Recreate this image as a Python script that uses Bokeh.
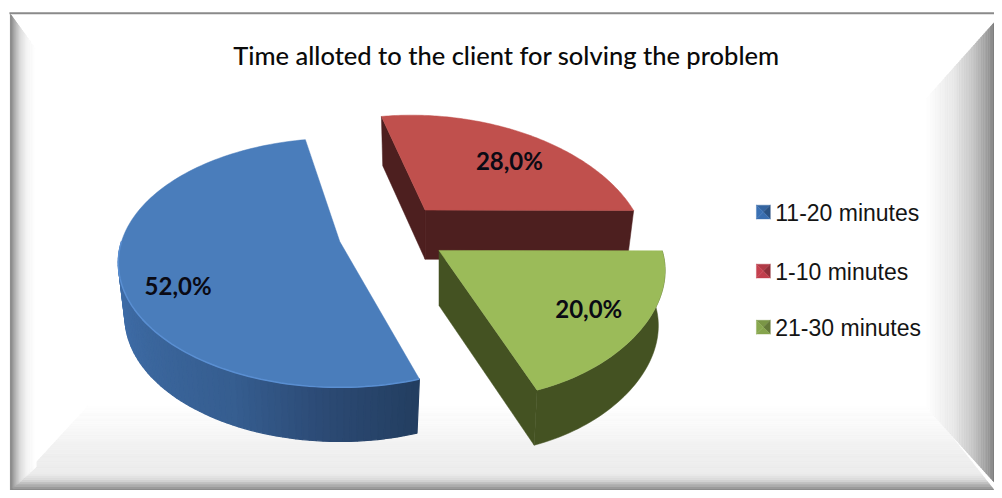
import numpy as np
from bokeh.plotting import figure
from bokeh.models import Range1d
from bokeh.core.properties import value
from bokeh.embed import file_html
from bokeh.resources import INLINE

title = "Time alloted to the client for solving the problem"
categories = ["11-20 minutes", "1-10 minutes", "21-30 minutes"]
shares = [52.0, 28.0, 20.0]
labels = ["52,0%", "28,0%", "20,0%"]
top_colors = ["#4a7dbb", "#c0504d", "#9bbb59"]
side_dark = ["#4d1f1f", "#445222"]
legend_colors = [(52, 100, 160), (176, 58, 70), (122, 150, 70)]

W, H = 994, 490
p = figure(width=W, height=H, x_range=Range1d(0, 1002), y_range=Range1d(498, 0),
           toolbar_location=None, output_backend="svg", min_border=0,
           background_fill_color="white", border_fill_color="white", outline_line_color=None)
p.axis.visible = False
p.grid.visible = False


def hexes(stops, t):
    ts = [s[0] for s in stops]
    vs = [s[1] for s in stops]
    g = int(round(float(np.interp(t, ts, vs))))
    return "#%02x%02x%02x" % (g, g, g)


def band(outer_a, outer_b, inner_a, inner_b, stops, n=40):
    xs, ys, cs = [], [], []
    oa, ob, ia, ib = map(np.array, (outer_a, outer_b, inner_a, inner_b))
    for i in range(n):
        t0, t1 = i / n, (i + 1) / n
        a0, b0 = oa + (ia - oa) * t0, ob + (ib - ob) * t0
        a1, b1 = oa + (ia - oa) * t1, ob + (ib - ob) * t1
        xs.append([a0[0], b0[0], b1[0], a1[0]])
        ys.append([a0[1], b0[1], b1[1], a1[1]])
        cs.append(hexes(stops, (t0 + t1) / 2))
    p.patches(xs, ys, fill_color=cs, line_color=cs, line_width=0.6)


# bevelled picture frame
band((10, 498), (1002, 498), (90, 410), (933, 410),
     [(0, 130), (0.05, 165), (0.12, 215), (0.2, 236), (0.45, 240), (0.8, 250), (1, 255)])
band((10, 14), (10, 498), (36, 50), (36, 474),
     [(0, 125), (0.15, 165), (0.4, 222), (0.7, 248), (1, 255)])
band((1002, 22), (1002, 490), (933, 100), (933, 413),
     [(0, 120), (0.08, 150), (0.3, 195), (0.6, 232), (1, 255)])
p.line([9, 1002], [13, 13], line_color="#8a8a8a", line_width=2)

# pie: per slice apex, horizontal and vertical radius, perspective, shear, depth
geometry = [
    dict(ax=342, ay=245, f=220, g=123, k=0.17, kx=0.17, s=0, d=55),
    dict(ax=428, ay=213, f=210, g=123, k=0.275, kx=0.275, s=-17.6, d=50),
    dict(ax=442, ay=254, f=225, g=123, k=0.184, kx=0.04, s=-27.7, d=56),
]
START = 100.6


def ring(g, th, lower=False):
    r = np.radians(th)
    x, y = np.cos(r), np.sin(r)
    dx = (g["f"] * x + g["s"] * y) / (1 + g["kx"] * y)
    dy = -g["g"] * y / (1 + g["k"] * y)
    if lower:
        return g["ax"] + dx * 0.97, g["ay"] + dy + g["d"]
    return g["ax"] + dx, g["ay"] + dy


spans = [v * 3.6 for v in shares]
blue_a, blue_b = START, START + spans[0]
red_a, red_b = START - spans[1], START
green_a, green_b = red_a - spans[2], red_a


def apex(g, lower=False):
    return g["ax"], g["ay"] + (g["d"] if lower else 0)


def face(g, th_list, color):
    xt, yt = ring(g, np.array(th_list))
    xb, yb = ring(g, np.array(th_list), True)
    p.patch(np.r_[xt, xb[::-1]], np.r_[yt, yb[::-1]], fill_color=color, line_color=color, line_width=0.5)


def cut(g, th, color):
    xt, yt = ring(g, np.array([th]))
    xb, yb = ring(g, np.array([th]), True)
    ax, ay = apex(g)
    bx, by = apex(g, True)
    p.patch([ax, xt[0], xb[0], bx], [ay, yt[0], yb[0], by], fill_color=color, line_color=color, line_width=0.5)


def top(g, a, b, color):
    th = np.linspace(a, b, 120)
    x, y = ring(g, th)
    ax, ay = apex(g)
    p.patch(np.r_[ax, x], np.r_[ay, y], fill_color=color, line_color=color, line_width=0.5)


# blue slice: shaded outer wall
g = geometry[0]
th = np.linspace(180, blue_b, 71)
xt, yt = ring(g, th)
xb, yb = ring(g, th, True)
shade_t = [0, 0.3, 0.6, 0.8, 1]
shade_r = [66, 60, 54, 44, 35]
shade_g = [114, 104, 94, 74, 62]
shade_b = [174, 160, 144, 116, 96]
xs, ys, cs = [], [], []
for i in range(len(th) - 1):
    t = i / (len(th) - 1)
    xs.append([xt[i], xt[i + 1], xb[i + 1], xb[i]])
    ys.append([yt[i], yt[i + 1], yb[i + 1], yb[i]])
    cs.append("#%02x%02x%02x" % (int(np.interp(t, shade_t, shade_r)),
                                 int(np.interp(t, shade_t, shade_g)),
                                 int(np.interp(t, shade_t, shade_b))))
p.patches(xs, ys, fill_color=cs, line_color=cs, line_width=1.2)
top(g, blue_a, blue_b, top_colors[0])
p.line(xt, yt, line_color="#5a8fd2", line_width=1.5)

# red slice
g = geometry[1]
cut(g, red_b, side_dark[0])
cut(g, red_a, side_dark[0])
top(g, red_a, red_b, top_colors[1])

# green slice
g = geometry[2]
cut(g, green_a, side_dark[1])
face(g, np.linspace(green_a, green_b, 50), side_dark[1])
top(g, green_a, green_b, top_colors[2])

# data labels
p.text([179, 513, 593], [290, 163, 313], text=labels, text_font=value("Lato"), text_font_style="bold",
       text_font_size="24px", text_color="#0a0a14", text_align="center", text_baseline="middle")

# title
p.text([510], [55], text=[title], text_font=value("Lato Medium"), text_font_size="25.5px", text_color="#0a0a0a",
       text_align="center", text_baseline="middle", text_font_style="normal")

# legend: small bevelled squares, then labels
ly = [216, 276, 333]
lx, half = 769, 7
for yc, base in zip(ly, legend_colors):
    yc = yc - 1
    cx, cy = lx, yc
    corners = [(cx - half, cy - half), (cx + half, cy - half), (cx + half, cy + half), (cx - half, cy + half)]
    factors = [1.0, 0.82, 1.1, 1.12]   # top, right, bottom, left facet
    for i, fac in enumerate(factors):
        a, b = corners[i], corners[(i + 1) % 4]
        col = "#%02x%02x%02x" % tuple(min(255, int(c * fac)) for c in base)
        p.patch([a[0], b[0], cx], [a[1], b[1], cy], fill_color=col, line_color=col, line_width=0.4)
p.text([781, 781, 781], ly, text=categories, text_font=value("Liberation Sans"), text_font_size="23px",
       text_color="#141414", text_align="left", text_baseline="middle")

open("out.html", "w").write(file_html(p, INLINE))
